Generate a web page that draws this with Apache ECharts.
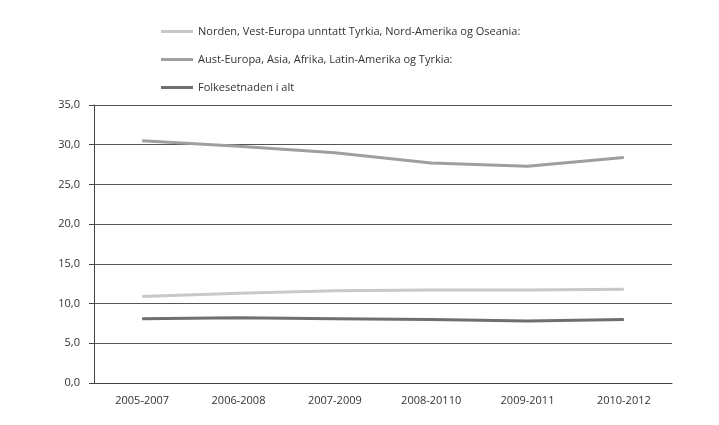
<!DOCTYPE html>
<head>
    <meta charset="utf-8">
    <title>ECharts</title>
    <style>html,body{margin:0;padding:0;background:#fff;}</style>
</head>
<body>
    <div id="main" style="height:425px;width:719px"></div>
    <script src="https://cdn.jsdelivr.net/npm/echarts@6/dist/echarts.min.js"></script>
    <script type="text/javascript">
    var periods = ['2005-2007', '2006-2008', '2007-2009', '2008-20110', '2009-2011', '2010-2012'];
    var nordenVest = [10.9, 11.3, 11.6, 11.7, 11.7, 11.8];
    var austAsia = [30.5, 29.8, 29.0, 27.7, 27.3, 28.4];
    var folkIalt = [8.1, 8.2, 8.1, 8.0, 7.8, 8.0];
    var seriesNames = [
        'Norden, Vest-Europa unntatt Tyrkia, Nord-Amerika og Oseania:',
        'Aust-Europa, Asia, Afrika, Latin-Amerika og Tyrkia:',
        'Folkesetnaden i alt'
    ];
    var colors = ['#c8c8c8', '#9f9f9f', '#6f6f6f'];

    var myChart = echarts.init(document.getElementById("main"));
    var font = "'Open Sans', sans-serif";
    var option = {
        animation: false,
        color: colors,
        legend: {
            orient: 'vertical',
            left: 156,
            top: 19,
            itemWidth: 32,
            itemHeight: 3,
            itemGap: 13,
            icon: 'rect',
            textStyle: { fontFamily: font, fontSize: 11, color: '#333', lineHeight: 15 },
            data: seriesNames
        },
        grid: { left: 94, right: 47, top: 105, bottom: 42 },
        xAxis: {
            type: 'category',
            boundaryGap: true,
            data: periods,
            axisLine: { lineStyle: { color: '#444', width: 1 } },
            axisTick: { length: 4, lineStyle: { color: '#444' } },
            axisLabel: { margin: 12, fontFamily: font, fontSize: 11, color: '#333' }
        },
        yAxis: {
            type: 'value',
            min: 0,
            max: 35,
            interval: 5,
            axisLine: { show: true, lineStyle: { color: '#444', width: 1 } },
            axisTick: { show: true, length: 5, lineStyle: { color: '#444' } },
            axisLabel: {
                margin: 14, fontFamily: font, fontSize: 11, color: '#333',
                formatter: function (v) { return v.toFixed(1).replace('.', ','); }
            },
            splitLine: { lineStyle: { color: '#555', width: 1 } }
        },
        series: [
            { name: seriesNames[0], type: 'line', data: nordenVest, symbol: 'none', lineStyle: { width: 3 } },
            { name: seriesNames[1], type: 'line', data: austAsia, symbol: 'none', lineStyle: { width: 3 } },
            { name: seriesNames[2], type: 'line', data: folkIalt, symbol: 'none', lineStyle: { width: 3 } }
        ]
    };
    myChart.setOption(option);
    </script>
</body>
